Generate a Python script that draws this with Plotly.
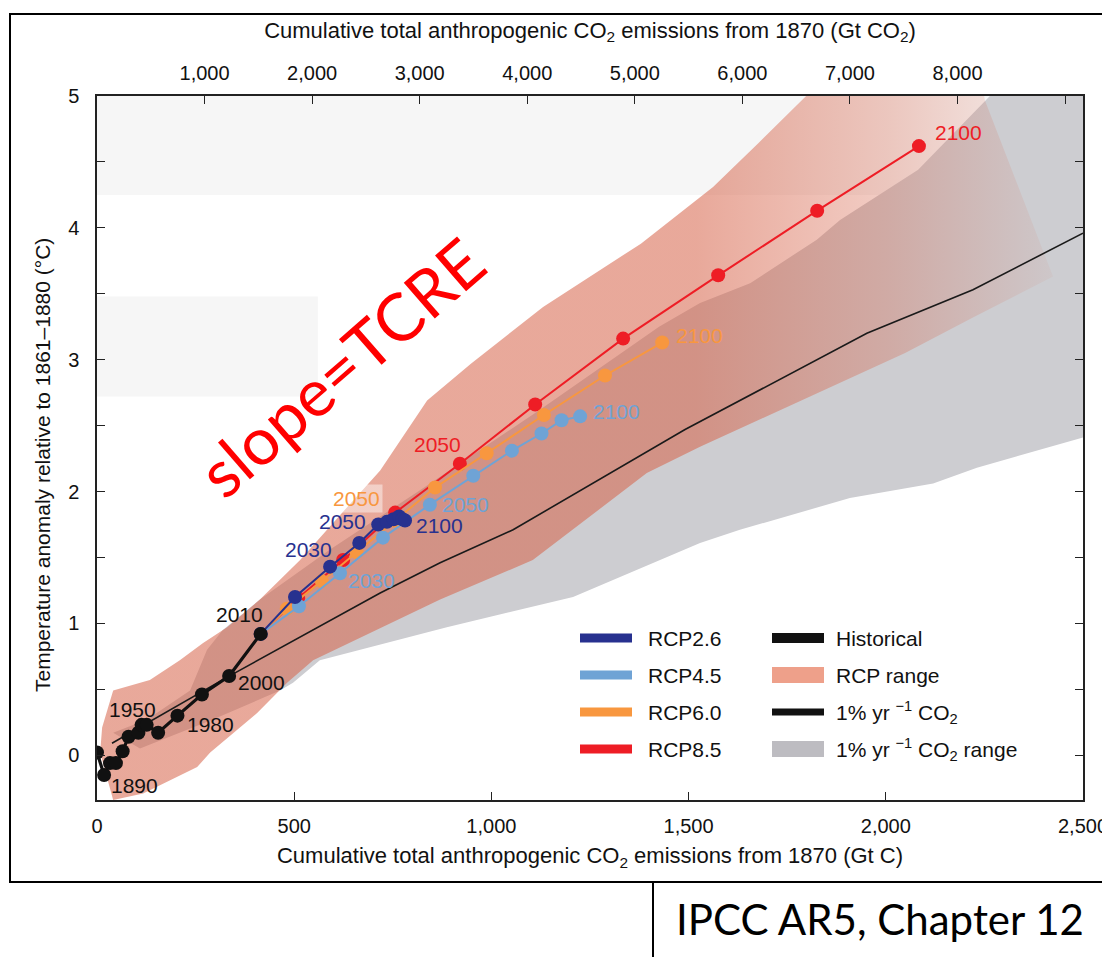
import plotly.graph_objects as go

# ---------------- data ----------------
hist_x = [0, 18, 33, 48, 65, 80, 105, 113, 126, 155, 204, 266, 335, 415]
hist_y = [0.02, -0.15, -0.06, -0.06, 0.03, 0.14, 0.17, 0.23, 0.23, 0.17, 0.30, 0.46, 0.60, 0.92]
hist_labels = {1: "1890", 7: "1950", 10: "1980", 12: "2000", 13: "2010"}

years = [2010, 2020, 2030, 2040, 2050, 2060, 2070, 2080, 2090, 2100]
rcp26_x = [415, 502, 591, 665, 713, 735, 752, 766, 775, 781]
rcp26_y = [0.92, 1.20, 1.43, 1.61, 1.75, 1.77, 1.79, 1.81, 1.79, 1.78]
rcp45_x = [415, 512, 616, 725, 844, 954, 1052, 1127, 1178, 1225]
rcp45_y = [0.92, 1.13, 1.38, 1.65, 1.90, 2.12, 2.31, 2.44, 2.54, 2.57]
rcp60_x = [415, 481, 570, 658, 755, 857, 988, 1133, 1288, 1433]
rcp60_y = [0.92, 1.11, 1.32, 1.54, 1.78, 2.03, 2.29, 2.58, 2.88, 3.13]
rcp85_x = [415, 510, 624, 756, 920, 1111, 1334, 1575, 1826, 2084]
rcp85_y = [0.92, 1.19, 1.48, 1.84, 2.21, 2.66, 3.16, 3.64, 4.13, 4.62]

onepct_x = [38, 335, 718, 870, 1055, 1491, 1952, 2221, 2500]
onepct_y = [0.09, 0.60, 1.23, 1.46, 1.71, 2.47, 3.20, 3.53, 3.96]

# RCP range envelope (upper edge left->right, then lower edge right->left)
rcp_up_x = [8, 13, 41, 134, 210, 269, 330, 413, 515, 616, 718, 837, 948, 1131, 1379, 1562, 1676, 1798, 1830, 2240, 2251]
rcp_up_y = [0.02, 0.21, 0.49, 0.57, 0.72, 0.85, 0.97, 1.18, 1.48, 1.82, 2.16, 2.69, 2.97, 3.40, 3.88, 4.31, 4.64, 5.00, 5.20, 5.20, 4.97]
rcp_lo_x = [2424, 2221, 2049, 1808, 1676, 1529, 1394, 1105, 870, 548, 482, 406, 287, 254, 117, 41]
rcp_lo_y = [3.63, 3.32, 3.05, 2.72, 2.54, 2.34, 2.14, 1.48, 1.18, 0.72, 0.55, 0.32, 0.02, -0.09, -0.29, -0.34]

# 1%/yr CO2 range envelope
gray_up_x = [41, 127, 236, 279, 319, 413, 591, 819, 1123, 1425, 1529, 1656, 1825, 1884, 2082, 2264, 2290, 2550]
gray_up_y = [0.17, 0.27, 0.49, 0.80, 0.95, 1.18, 1.56, 2.01, 2.62, 3.25, 3.43, 3.58, 3.91, 4.06, 4.44, 5.00, 5.20, 5.20]
gray_lo_x = [2550, 2500, 2231, 2120, 1909, 1630, 1529, 1207, 887, 565, 497, 464, 294, 109]
gray_lo_y = [2.38, 2.41, 2.18, 2.06, 1.95, 1.71, 1.61, 1.20, 0.97, 0.72, 0.55, 0.49, 0.27, 0.05]

x_ticks = [0, 500, 1000, 1500, 2000, 2500]
x_ticktext = ["0", "500", "1,000", "1,500", "2,000", "2,500"]
x2_ticks = [1000, 2000, 3000, 4000, 5000, 6000, 7000, 8000]
x2_ticktext = ["1,000", "2,000", "3,000", "4,000", "5,000", "6,000", "7,000", "8,000"]
y_ticks = [0, 1, 2, 3, 4, 5]
y_ticktext = ["0", "1", "2", "3", "4", "5"]
GTC_TO_GTCO2 = 44.0 / 12.0

# ---------------- styles ----------------
C26, C45, C60, C85 = "#27318f", "#6fa3d5", "#f8973f", "#ee1d25"
SALMON = "rgba(214,98,72,0.55)"
GRAY = "#cdcdd1"
FONT = "Liberation Sans, Arial, sans-serif"

fig = go.Figure()

# background bands (scan artefacts in the original)
fig.add_shape(type="rect", xref="x", yref="y", x0=0, x1=2500, y0=4.25, y1=5.0,
              fillcolor="#f6f6f6", line_width=0, layer="below")
fig.add_shape(type="rect", xref="x", yref="y", x0=0, x1=560, y0=2.72, y1=3.48,
              fillcolor="#f6f6f6", line_width=0, layer="below")

# gray range
fig.add_trace(go.Scatter(x=gray_up_x + gray_lo_x, y=gray_up_y + gray_lo_y, mode="none",
                         fill="toself", fillcolor=GRAY, hoverinfo="skip", showlegend=False))
# RCP range with fading towards the upper right
fig.add_trace(go.Scatter(x=rcp_up_x + rcp_lo_x, y=rcp_up_y + rcp_lo_y, mode="none",
                         fill="toself",
                         fillgradient=dict(type="horizontal", start=0, stop=2450,
                                           colorscale=[[0, SALMON], [0.62, SALMON],
                                                       [0.82, "rgba(214,98,72,0.32)"],
                                                       [1, "rgba(214,98,72,0.04)"]]),
                         hoverinfo="skip", showlegend=False))
# 1% per year CO2 line
fig.add_trace(go.Scatter(x=onepct_x, y=onepct_y, mode="lines",
                         line=dict(color="#1a1a1a", width=1.6), showlegend=False))

series = [
    ("RCP8.5", rcp85_x, rcp85_y, C85),
    ("RCP6.0", rcp60_x, rcp60_y, C60),
    ("RCP4.5", rcp45_x, rcp45_y, C45),
    ("RCP2.6", rcp26_x, rcp26_y, C26),
]
for name, xs, ys, col in series:
    fig.add_trace(go.Scatter(x=xs, y=ys, mode="lines+markers", name=name,
                             line=dict(color=col, width=2),
                             marker=dict(color=col, size=14), showlegend=False))

fig.add_trace(go.Scatter(x=hist_x, y=hist_y, mode="lines+markers", name="Historical",
                         line=dict(color="#111111", width=3.2),
                         marker=dict(color="#111111", size=14), showlegend=False))

# invisible trace on the GtCO2 axis so it is drawn
fig.add_trace(go.Scatter(x=[v * GTC_TO_GTCO2 for v in hist_x], y=hist_y, xaxis="x2",
                         mode="markers", marker=dict(opacity=0), hoverinfo="skip",
                         showlegend=False))

# ---------------- year labels ----------------
def lab(x, y, text, color, anchor, dx, dy, bg=None):
    fig.add_annotation(x=x, y=y, text=text, showarrow=False, xanchor=anchor,
                       yanchor="middle", xshift=dx, yshift=dy,
                       font=dict(family=FONT, size=21, color=color),
                       bgcolor=bg, borderpad=2 if bg else 0)

hist_offsets = {1: ("left", 6, -11), 7: ("center", -9, 15), 10: ("left", 9, -9),
                12: ("left", 8, -6), 13: ("right", 3, 19)}
for i, t in hist_labels.items():
    a, dx, dy = hist_offsets[i]
    lab(hist_x[i], hist_y[i], t, "#111111", a, dx, dy)

i30, i50, i100 = years.index(2030), years.index(2050), years.index(2100)
lab(rcp26_x[i30], rcp26_y[i30], "2030", C26, "right", 3, 17)
lab(rcp26_x[i50], rcp26_y[i50], "2050", C26, "right", -11, 3)
lab(rcp26_x[i100], rcp26_y[i100], "2100", C26, "left", 10, -5)
lab(rcp45_x[i30], rcp45_y[i30], "2030", C45, "left", 7, -7)
lab(rcp45_x[i50], rcp45_y[i50], "2050", C45, "left", 11, 0)
lab(rcp45_x[i100], rcp45_y[i100], "2100", C45, "left", 12, 5)
lab(rcp60_x[i50], rcp60_y[i50], "2050", C60, "right", -12, 22, bg="rgba(255,255,255,0.45)")
lab(rcp60_x[i100], rcp60_y[i100], "2100", C60, "left", 13, 7)
lab(rcp85_x[i50], rcp85_y[i50], "2050", C85, "right", 2, 19)
lab(rcp85_x[i100], rcp85_y[i100], "2100", C85, "left", 15, 14)

# ---------------- geometry (page has an 8 px body margin) ----------------
OFF = 8
PL, PR, PT, PB = 97, 1083, 96, 800          # plot area in screen pixels
W, H = 1110 - OFF, 957 - OFF                 # figure size so that it fills the window
def px(x):
    return (x - PL) / (PR - PL)
def py(y):
    return (PB - y) / (PB - PT)

legend_items = [
    ("RCP2.6", C26, 9), ("RCP4.5", C45, 9), ("RCP6.0", C60, 9), ("RCP8.5", C85, 9),
    ("Historical", "#111111", 10), ("RCP range", "#eea08a", 16),
    ("1% yr <sup>−1</sup> CO<sub>2</sub>", "#111111", 7),
    ("1% yr <sup>−1</sup> CO<sub>2</sub> range", "#bdbcc1", 16),
]
col_x = [(580, 632, 646), (772, 824, 834)]
row_y = [638, 675, 712, 749]
for k, (txt, col, th) in enumerate(legend_items):
    c, r = divmod(k, 4)
    x0, x1, xt = col_x[c]
    yc = row_y[r]
    fig.add_shape(type="rect", xref="paper", yref="paper", x0=px(x0), x1=px(x1),
                  y0=py(yc + th / 2), y1=py(yc - th / 2), fillcolor=col, line_width=0)
    fig.add_annotation(xref="paper", yref="paper", x=px(xt), y=py(yc), text=txt,
                       showarrow=False, xanchor="left", yanchor="middle",
                       font=dict(family=FONT, size=21, color="#111111"))

# ---------------- slope=TCRE ----------------
fig.add_annotation(xref="paper", yref="paper", x=px(341), y=py(367), text="slope=TCRE",
                   showarrow=False, textangle=-41, xanchor="center", yanchor="middle",
                   font=dict(family="Lato, Open Sans, sans-serif", size=66, color="#ff0000"))

# ---------------- y-axis title (placed like the original) ----------------
fig.add_annotation(xref="paper", yref="paper", x=px(42), y=py(465),
                   text="Temperature anomaly relative to 1861–1880 (°C)",
                   showarrow=False, textangle=-90, xanchor="center", yanchor="middle",
                   font=dict(family=FONT, size=21, color="#111111"))

# ---------------- outer frame and source box ----------------
fig.add_shape(type="rect", xref="paper", yref="paper", x0=px(10), x1=px(1108),
              y0=py(882), y1=py(14), line=dict(color="black", width=2), fillcolor="rgba(0,0,0,0)")
fig.add_shape(type="rect", xref="paper", yref="paper", x0=px(653), x1=px(1112),
              y0=py(960), y1=py(882), line=dict(color="black", width=2), fillcolor="white")
fig.add_annotation(xref="paper", yref="paper", x=px(880), y=py(919), text="IPCC AR5, Chapter 12",
                   showarrow=False, xanchor="center", yanchor="middle",
                   font=dict(family="Lato, Open Sans, sans-serif", size=42, color="black"))

axis_common = dict(showgrid=False, zeroline=False, showline=True, linecolor="#222222",
                   linewidth=1.5, ticks="inside", ticklen=8, tickcolor="#222222",
                   automargin=False,
                   tickfont=dict(family=FONT, size=20, color="#111111"))

fig.update_layout(
    width=W, height=H,
    margin=dict(l=PL - OFF, r=W - (PR - OFF), t=PT - OFF, b=H - (PB - OFF)),
    paper_bgcolor="white", plot_bgcolor="white",
    showlegend=False,
    xaxis=dict(range=[0, 2500], tickvals=x_ticks, ticktext=x_ticktext, mirror=True,
               ticklabelstandoff=7,
               title=dict(text="Cumulative total anthropogenic CO<sub>2</sub> emissions from 1870 (Gt C)",
                          font=dict(family=FONT, size=22, color="#111111"), standoff=12),
               **axis_common),
    xaxis2=dict(range=[0, 2500 * GTC_TO_GTCO2], overlaying="x", side="top",
                tickvals=x2_ticks, ticktext=x2_ticktext, ticklabelstandoff=6,
                minor=dict(dtick=1000, ticks="inside", ticklen=8, tickcolor="#222222"),
                title=dict(text="Cumulative total anthropogenic CO<sub>2</sub> emissions from 1870 (Gt CO<sub>2</sub>)",
                           font=dict(family=FONT, size=22, color="#111111"), standoff=18),
                **axis_common),
    yaxis=dict(range=[-0.34, 5.0], tickvals=y_ticks, ticktext=y_ticktext, mirror="ticks",
               ticklabelstandoff=12,
               minor=dict(dtick=0.5, tick0=0, ticks="inside", ticklen=8, tickcolor="#222222"),
               **axis_common),
)

fig.write_html("out.html")
